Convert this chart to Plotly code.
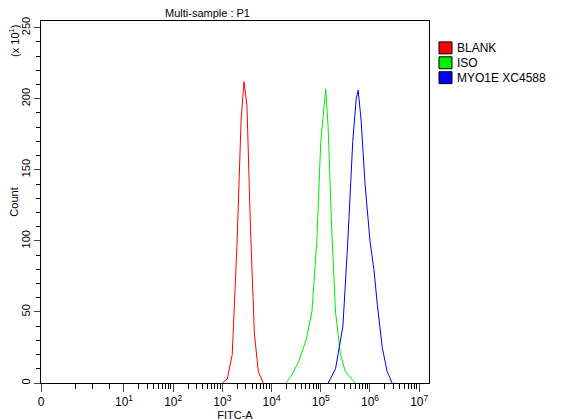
import plotly.graph_objects as go
import math

names = ["BLANK", "ISO", "MYO1E XC4588"]
colors = ["#ff0000", "#00ee00", "#0000ff"]
# log10(FITC-A), count (x10)
red_x = [3.00, 3.10, 3.20, 3.30, 3.38, 3.44, 3.50, 3.57, 3.65, 3.73, 3.83]
red_y = [0, 3, 20, 100, 185, 212, 195, 110, 35, 8, 0]
green_x = [4.29, 4.40, 4.55, 4.70, 4.82, 4.92, 5.00, 5.07, 5.10, 5.15, 5.22, 5.30, 5.40, 5.50, 5.70]
green_y = [0, 5, 15, 30, 50, 100, 170, 200, 207, 180, 110, 50, 20, 8, 0]
blue_x = [5.15, 5.30, 5.45, 5.55, 5.65, 5.72, 5.76, 5.82, 5.90, 6.00, 6.08, 6.15, 6.25, 6.35, 6.45]
blue_y = [0, 10, 40, 100, 170, 200, 206, 185, 140, 100, 80, 55, 25, 8, 0]
x_ticklabels = ["0", "10<sup>1</sup>", "10<sup>2</sup>", "10<sup>3</sup>", "10<sup>4</sup>", "10<sup>5</sup>", "10<sup>6</sup>", "10<sup>7</sup>"]
y_ticks = [0, 50, 100, 150, 200, 250]

ZERO = -0.687  # axis position of 0
XMAX = 7.2
L, R, T, B = 41, 429, 19, 383
def px(x): return (x - L) / (R - L)
def py(y): return (B - y) / (B - T)

fig = go.Figure()
for xs, ys, c in [(red_x, red_y, colors[0]), (green_x, green_y, colors[1]), (blue_x, blue_y, colors[2])]:
    fig.add_trace(go.Scatter(x=xs, y=ys, mode="lines", line=dict(color=c, width=1), showlegend=False))

minor = []
for d in range(1, 7):
    for k in range(2, 10):
        minor.append(d + math.log10(k))
minor += [ZERO + 0.35 * i for i in range(2, 5)]

fig.update_layout(
    width=566, height=420, plot_bgcolor="white", paper_bgcolor="white", showlegend=False,
    margin=dict(l=33, r=145, t=13, b=45),
    font=dict(family="Liberation Sans, Arial", size=11, color="black"),
    xaxis=dict(range=[ZERO, XMAX], tickvals=[ZERO, 1, 2, 3, 4, 5, 6, 7], ticktext=x_ticklabels, automargin=False,
               ticks="outside", ticklen=8, showgrid=False, zeroline=False, showline=True, linecolor="black",
               mirror=True, tickfont=dict(size=12),
               minor=dict(tickvals=minor, ticks="outside", ticklen=5, tickcolor="black"),
               title=dict(text="FITC-A", standoff=2, font=dict(size=11))),
    yaxis=dict(range=[0, 254.7], tickvals=y_ticks, ticks="outside", ticklen=6, showgrid=False, zeroline=False,
               showline=True, linecolor="black", mirror=True, tickangle=-90, automargin=False,
               minor=dict(tickvals=list(range(10, 251, 10)), ticks="outside", ticklen=4, tickcolor="black"),
               title=dict(text="Count", standoff=4, font=dict(size=11))),
)
fig.add_annotation(text="Multi-sample : P1", xref="paper", yref="paper", x=px(207), y=py(11),
                   showarrow=False, xanchor="center", yanchor="middle", font=dict(size=11))
fig.add_annotation(text="(x 10<sup>1</sup>)", xref="paper", yref="paper", x=px(14), y=py(39), textangle=-90,
                   showarrow=False, xanchor="center", yanchor="middle", font=dict(size=11))
for i, (n, c) in enumerate(zip(names, colors)):
    y0 = 40 + 15 * i
    fig.add_shape(type="rect", xref="paper", yref="paper", x0=px(439), x1=px(452), y0=py(y0 + 12), y1=py(y0),
                  fillcolor=c, line=dict(color="black", width=1))
    fig.add_annotation(text=n, xref="paper", yref="paper", x=px(455), y=py(y0 + 6), showarrow=False,
                       xanchor="left", yanchor="middle", font=dict(size=12))
fig.write_html("out.html")
